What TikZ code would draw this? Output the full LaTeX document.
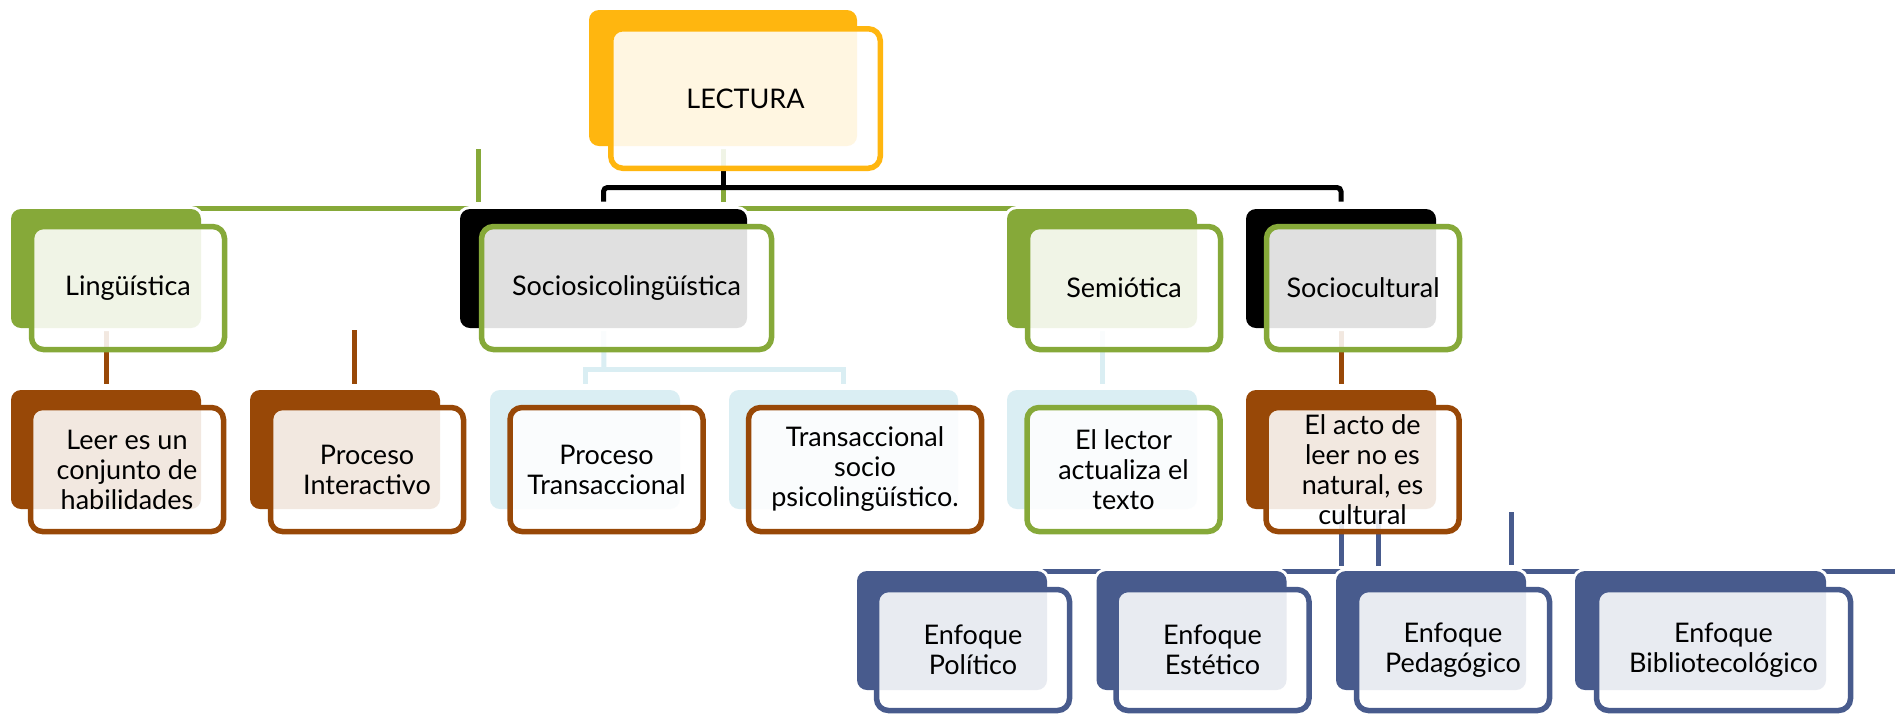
\documentclass[tikz,border=0pt]{standalone}
\usepackage{fontspec}
\setmainfont{Lato}
\usetikzlibrary{calc}
\definecolor{cOrange}{HTML}{FFB60F}
\definecolor{cGreen}{HTML}{86A939}
\definecolor{cBrown}{HTML}{984807}
\definecolor{cLBlue}{HTML}{DAEEF3}
\definecolor{cBlue}{HTML}{485B8D}
\pgfdeclarelayer{paper}
\pgfdeclarelayer{bg}
\pgfsetlayers{paper,bg,main}
\tikzset{
  bk/.style={rounded corners=5pt, inner sep=0pt, minimum width=95pt, minimum height=59.5pt,
    preaction={draw=white, line width=3pt}},
  fr/.style={rounded corners=6pt, inner sep=0pt, draw, line width=2.75pt, fill=white,
    fill opacity=0.88, text opacity=1, text=black, align=center, minimum width=96.5pt,
    font=\fontsize{13.5}{15}\selectfont},
  frA/.style={fr, minimum height=61.5pt},
  frB/.style={fr, minimum height=62pt},
  frC/.style={fr, minimum height=60.5pt},
  cn/.style={line width=2.5pt},
}
\begin{document}
\begin{tikzpicture}[x=0.5pt,y=-0.5pt]
\useasboundingbox (0,0) rectangle (1895,714);
\begin{pgfonlayer}{paper}
\fill[white] (0,0) rectangle (1895,714);
\end{pgfonlayer}

% level 0
\node[bk, fill=cOrange, minimum width=134pt, minimum height=68pt] (b0) at (723,78) {};
\node[fr, draw=cOrange, minimum width=134.75pt, minimum height=69.75pt] (f0) at (745.5,98.5) {LECTURA};

% level 1
\node[bk, fill=cGreen] (b_ling) at (106,268.5) {};
\node[frA, draw=cGreen] (f_ling) at (128,288) {Lingüística};
\node[bk, fill=black, minimum width=143.5pt] (b_socio) at (603.5,268.5) {};
\node[frA, draw=cGreen, minimum width=145pt] (f_socio) at (626.5,288) {Sociosicolingüística};
\node[bk, fill=cGreen] (b_semi) at (1102,268.5) {};
\node[frA, draw=cGreen] (f_semi) at (1124,288) {Semiótica};
\node[bk, fill=black] (b_soccult) at (1341,268.5) {};
\node[frA, draw=cGreen] (f_soccult) at (1363,288) {Sociocultural};

% level 2
\node[bk, fill=cBrown] (b_leer) at (106,449.5) {};
\node[frB, draw=cBrown] (f_leer) at (127,469.5) {Leer es un\\conjunto de\\habilidades};
\node[bk, fill=cBrown] (b_pint) at (345,449.5) {};
\node[frB, draw=cBrown] (f_pint) at (367,469.5) {Proceso\\Interactivo};
\node[bk, fill=cLBlue] (b_ptrans) at (585,449.5) {};
\node[frB, draw=cBrown] (f_ptrans) at (606.5,469.5) {Proceso\\Transaccional};
\node[bk, fill=cLBlue, minimum width=114.5pt] (b_tsocio) at (843.5,449.5) {};
\node[frB, draw=cBrown, minimum width=116.5pt] (f_tsocio) at (865,469.5) {Transaccional\\socio\\psicolingüístico.};
\node[bk, fill=cLBlue] (b_lector) at (1102,449.5) {};
\node[frB, draw=cGreen] (f_lector) at (1123.5,469.5) {El lector\\actualiza el\\texto};
\node[bk, fill=cBrown] (b_acto) at (1341,449.5) {};
\node[frB, draw=cBrown] (f_acto) at (1362.5,469.5) {El acto de\\leer no es\\natural, es\\cultural};

% level 3
\node[bk, fill=cBlue] (b_pol) at (952,630.5) {};
\node[frC, draw=cBlue] (f_pol) at (973,650) {Enfoque\\Político};
\node[bk, fill=cBlue] (b_est) at (1191.5,630.5) {};
\node[frC, draw=cBlue] (f_est) at (1212.5,650) {Enfoque\\Estético};
\node[bk, fill=cBlue] (b_ped) at (1431,630.5) {};
\node[frC, draw=cBlue] (f_ped) at (1453,650) {Enfoque\\Pedagógico};
\node[bk, fill=cBlue, minimum width=125.5pt] (b_bib) at (1700.5,630.5) {};
\node[frC, draw=cBlue, minimum width=127pt] (f_bib) at (1723.5,650) {Enfoque\\Bibliotecológico};

\begin{pgfonlayer}{bg}
% green
\draw[cn, cGreen] (b_ling.north) -- (b_semi.north);
\coordinate (g1) at (478,149);
\coordinate (g2) at (478,202);
\draw[cn, cGreen] (g1) -- (g2);
\draw[cn, cGreen] (b0.south) -- ++(0,56);
% black bracket
\coordinate (bkt) at (723,187.5);
\draw[cn, black] (b0.south |- f0.south) -- (bkt);
\draw[cn, black, rounded corners=2pt] ($(b_socio.north)+(0,-7)$) |- (bkt) -| ($(b_soccult.north)+(0,-7)$);
% brown
\draw[cn, cBrown] (b_ling.south) -- ($(b_leer.north)+(0,-6)$);
\coordinate (p1) at (354,330);
\coordinate (p2) at (354,384);
\draw[cn, cBrown] (p1) -- (p2);
\draw[cn, cBrown] (b_soccult.south) -- ($(b_acto.north)+(0,-6)$);
% light blue
\coordinate (lb) at (604,369);
\draw[cn, cLBlue] (b_socio.south) -- (lb);
\draw[cn, cLBlue] ($(b_ptrans.north)+(0,-6)$) |- (lb) -| ($(b_tsocio.north)+(0,-6)$);
\draw[cn, cLBlue] (b_semi.south) -- ($(b_lector.north)+(0,-6)$);
% blue
\draw[cn, cBlue] (b_acto.south) -- ++(0,57);
\draw[cn, cBlue] ($(b_acto.south)+(37,0)$) -- ++(0,57);
\coordinate (q1) at (1511,512);
\coordinate (q2) at (1511,565);
\draw[cn, cBlue] (q1) -- (q2);
\coordinate (redge) at (1895,571);
\draw[cn, cBlue] (b_pol.center |- redge) -- (redge);
\end{pgfonlayer}
\end{tikzpicture}
\end{document}
